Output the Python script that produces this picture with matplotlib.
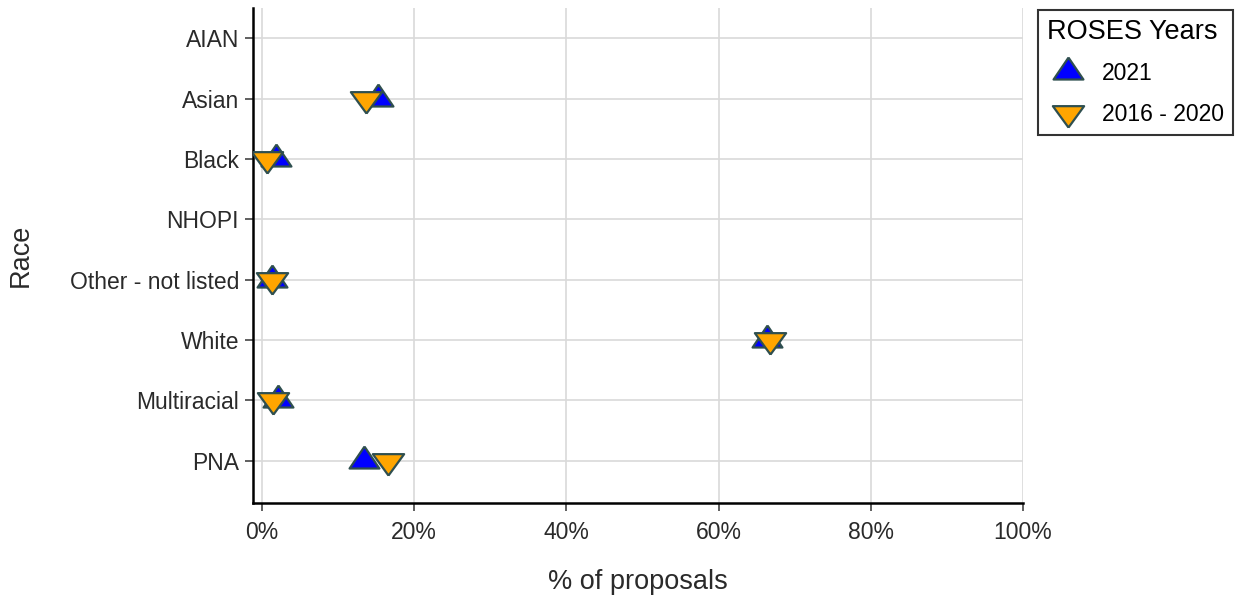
import numpy as np
import matplotlib.pyplot as plt
from matplotlib.ticker import FuncFormatter

plt.rcParams['font.family'] = ['Liberation Sans', 'DejaVu Sans']

races = ['AIAN', 'Asian', 'Black', 'NHOPI', 'Other - not listed', 'White', 'Multiracial', 'PNA']
pct_2021 = [np.nan, 15.2, 1.8, np.nan, 1.3, 66.3, 2.1, 13.4]
pct_2016_2020 = [np.nan, 13.7, 0.6, np.nan, 1.3, 66.7, 1.4, 16.5]
x_ticks = [0, 20, 40, 60, 80, 100]

# plotly-style triangles: wider than tall
up_tri = [(0, 1.0), (-1, -0.47), (1, -0.47), (0, 1.0)]
down_tri = [(0, -0.9), (-1, 0.47), (1, 0.47), (0, -0.9)]

fig = plt.figure(figsize=(12.37, 5.97), dpi=100)
ax = fig.add_axes([253 / 1237, 1 - 503 / 597, (1023 - 253) / 1237, (503 - 8) / 597])

ypos = np.arange(len(races))
edge = '#2f4f4f'
ax.plot(pct_2021, ypos, linestyle='none', marker=up_tri, markersize=21.5,
        markerfacecolor='#0000ff', markeredgecolor=edge, markeredgewidth=1.6,
        label='2021', zorder=3)
ax.plot(pct_2016_2020, ypos, linestyle='none', marker=down_tri, markersize=22.5,
        markerfacecolor='#ffa500', markeredgecolor=edge, markeredgewidth=1.6,
        label='2016 - 2020', zorder=4)

ax.set_yticks(ypos)
ax.set_yticklabels(races)
ax.set_ylim(len(races) - 0.3, -0.5)
ax.set_xlim(-1.2, 100)
ax.set_xticks(x_ticks)
ax.xaxis.set_major_formatter(FuncFormatter(lambda v, p: f'{v:.0f}%'))

ax.grid(True, color='#d9d9d9', linewidth=1.2)
ax.set_axisbelow(True)
for s in ['top', 'right']:
    ax.spines[s].set_visible(False)
for s in ['left', 'bottom']:
    ax.spines[s].set_linewidth(1.8)
    ax.spines[s].set_color('black')

ax.tick_params(axis='both', labelsize=16.5, colors='#444444', labelcolor='#2a2a2a',
               length=6, width=1.2)
ax.tick_params(axis='x', pad=7)
ax.tick_params(axis='y', pad=4)
ax.set_xlabel('% of proposals', fontsize=19.5, color='#2a2a2a', labelpad=18)
ax.set_ylabel('Race', fontsize=19.5, color='#2a2a2a')
ax.yaxis.set_label_coords(-0.285, 0.5)

leg = fig.legend(title='ROSES Years', loc='upper left', bbox_to_anchor=(1038 / 1237, 1 - 10 / 597),
                 fontsize=16.5, title_fontsize=19.5, frameon=True, fancybox=False,
                 edgecolor='black', markerscale=1.0, handletextpad=0.6, handlelength=1.8,
                 borderpad=0.4, labelspacing=0.75, borderaxespad=0)
leg.get_frame().set_linewidth(1.5)
leg._legend_box.align = 'left'

fig.savefig('out.png', dpi=100)
